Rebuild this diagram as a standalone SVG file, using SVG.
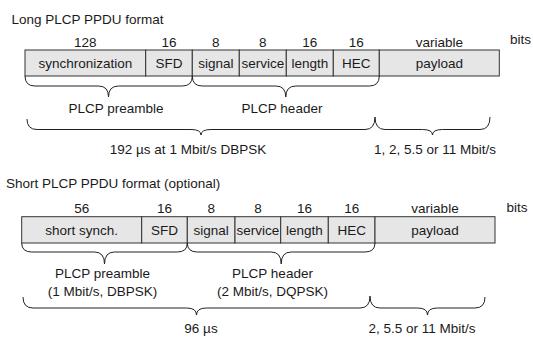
<svg xmlns="http://www.w3.org/2000/svg" width="533" height="342" viewBox="0 0 533 342">
<style>
text{font-family:"Liberation Sans",Arial,sans-serif;font-size:13.5px;fill:#1a1a1a}
.c{text-anchor:middle}
.cell{fill:#e6e6e6;stroke:#333;stroke-width:1}
.br{fill:none;stroke:#222;stroke-width:1}
</style>
<rect width="533" height="342" fill="#fff"/>
<g id="long">
<text x="11.5" y="24">Long PLCP PPDU format</text>
<g id="long-fields">
<rect class="cell" x="25" y="50" width="120.7" height="26"/>
<rect class="cell" x="145.7" y="50" width="46.6" height="26"/>
<rect class="cell" x="192.3" y="50" width="47" height="26"/>
<rect class="cell" x="239.3" y="50" width="47" height="26"/>
<rect class="cell" x="286.3" y="50" width="47" height="26"/>
<rect class="cell" x="333.3" y="50" width="46" height="26"/>
<rect class="cell" x="379.3" y="50" width="120" height="26"/>
<text class="c" x="85.3" y="68.3">synchronization</text>
<text class="c" x="169" y="68.3">SFD</text>
<text class="c" x="215.8" y="68.3">signal</text>
<text class="c" x="262.8" y="68.3">service</text>
<text class="c" x="309.8" y="68.3">length</text>
<text class="c" x="356.3" y="68.3">HEC</text>
<text class="c" x="439.3" y="68.3">payload</text>
<text class="c" x="85.3" y="46.5">128</text>
<text class="c" x="169" y="46.5">16</text>
<text class="c" x="215.8" y="46.5">8</text>
<text class="c" x="262.8" y="46.5">8</text>
<text class="c" x="309.8" y="46.5">16</text>
<text class="c" x="356.3" y="46.5">16</text>
<text class="c" x="439.3" y="46.5">variable</text>
<text x="510" y="43.5">bits</text>
</g>
<text class="c" x="116" y="113">PLCP preamble</text>
<text class="c" x="282" y="113">PLCP header</text>
<text class="c" x="188" y="154">192 µs at 1 Mbit/s DBPSK</text>
<text class="c" x="435" y="154">1, 2, 5.5 or 11 Mbit/s</text>
</g>
<g id="short">
<text x="6" y="188">Short PLCP PPDU format (optional)</text>
<g id="short-fields">
<rect class="cell" x="21.7" y="216.7" width="120" height="26.3"/>
<rect class="cell" x="141.7" y="216.7" width="45.6" height="26.3"/>
<rect class="cell" x="187.3" y="216.7" width="47.7" height="26.3"/>
<rect class="cell" x="235" y="216.7" width="45.7" height="26.3"/>
<rect class="cell" x="280.7" y="216.7" width="47.6" height="26.3"/>
<rect class="cell" x="328.3" y="216.7" width="46.7" height="26.3"/>
<rect class="cell" x="375" y="216.7" width="120" height="26.3"/>
<text class="c" x="81.7" y="235">short synch.</text>
<text class="c" x="164.5" y="235">SFD</text>
<text class="c" x="211.2" y="235">signal</text>
<text class="c" x="257.9" y="235">service</text>
<text class="c" x="304.5" y="235">length</text>
<text class="c" x="351.7" y="235">HEC</text>
<text class="c" x="435" y="235">payload</text>
<text class="c" x="81.7" y="213.3">56</text>
<text class="c" x="164.5" y="213.3">16</text>
<text class="c" x="211.2" y="213.3">8</text>
<text class="c" x="257.9" y="213.3">8</text>
<text class="c" x="304.5" y="213.3">16</text>
<text class="c" x="351.7" y="213.3">16</text>
<text class="c" x="435" y="213.3">variable</text>
<text x="506.5" y="211.5">bits</text>
</g>
<text class="c" x="102.5" y="278.3">PLCP preamble</text>
<text class="c" x="102.5" y="296">(1 Mbit/s, DBPSK)</text>
<text class="c" x="272.5" y="278.3">PLCP header</text>
<text class="c" x="272.5" y="296">(2 Mbit/s, DQPSK)</text>
<text class="c" x="201" y="333.3">96 µs</text>
<text class="c" x="422" y="333.3">2, 5.5 or 11 Mbit/s</text>
</g>
<g id="connectors">
<path class="br" d="M25,76 Q25,86 35,86 L98.5,86 Q108.5,86 108.5,97 Q108.5,86 118.5,86 L182.3,86 Q192.3,86 192.3,76"/>
<path class="br" d="M192.3,76 Q192.3,86 202.3,86 L275.8,86 Q285.8,86 285.8,97 Q285.8,86 295.8,86 L369.3,86 Q379.3,86 379.3,76"/>
<path class="br" d="M27,119 Q27,129.5 37,129.5 L191,129.5 Q201,129.5 201,135 Q201,129.5 211,129.5 L365,129.5 Q375,129.5 375,117"/>
<path class="br" d="M375,117 Q375,129.5 385,129.5 L422.5,129.5 Q432.5,129.5 432.5,135 Q432.5,129.5 442.5,129.5 L480,129.5 Q490,129.5 490,117"/>
<path class="br" d="M21.7,243 Q21.7,252 31.7,252 L94.5,252 Q104.5,252 104.5,264 Q104.5,252 114.5,252 L177.3,252 Q187.3,252 187.3,243"/>
<path class="br" d="M187.3,243 Q187.3,252 197.3,252 L271.2,252 Q281.2,252 281.2,264 Q281.2,252 291.2,252 L365,252 Q375,252 375,243"/>
<path class="br" d="M23,297 Q23,308 33,308 L186.5,308 Q196.5,308 196.5,315 Q196.5,308 206.5,308 L360,308 Q370,308 370,296"/>
<path class="br" d="M370,296 Q370,308 380,308 L417.5,308 Q427.5,308 427.5,315 Q427.5,308 437.5,308 L475,308 Q485,308 485,297"/>
</g>
</svg>
